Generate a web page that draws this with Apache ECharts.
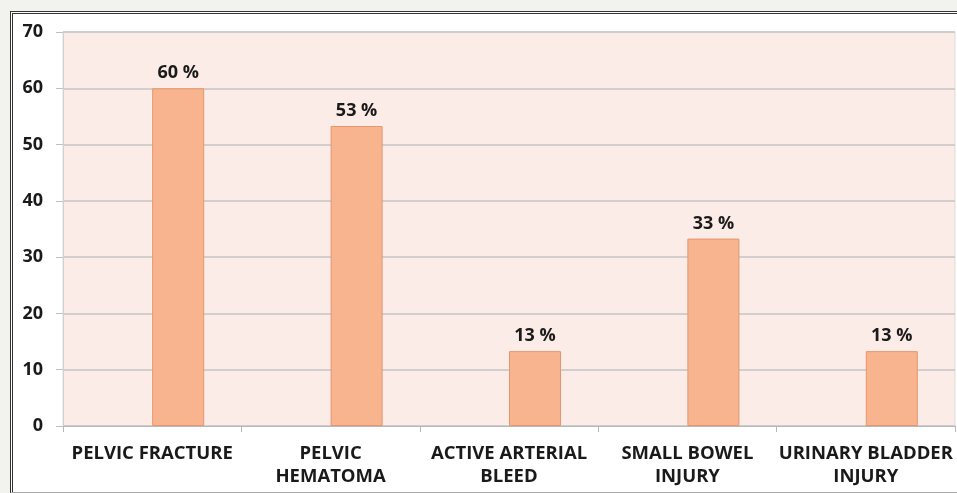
<!DOCTYPE html>
<html>
<head>
<meta charset="utf-8">
<script src="https://cdn.jsdelivr.net/npm/echarts@6/dist/echarts.min.js"></script>
<style>
  html, body { margin: 0; padding: 0; background: #f2f2ee; overflow: hidden; }
  #frame {
    position: absolute; left: 10px; top: 11px; width: 960px; height: 478px;
    background: #ffffff; border-top: 3px double #333; border-left: 3px double #333;
    border-bottom: 1px solid #aaa;
  }
  #main { position: absolute; left: 0; top: 0; width: 957px; height: 493px; }
</style>
</head>
<body>
<div id="frame"></div>
<div id="main"></div>
<script>
  // categories and values (percent)
  const categories = ['PELVIC FRACTURE', 'PELVIC\nHEMATOMA', 'ACTIVE ARTERIAL\nBLEED', 'SMALL BOWEL\nINJURY', 'URINARY BLADDER\nINJURY']
  const values = [60, 53.3, 13.3, 33.3, 13.3]
  const labels = ['60 %', '53 %', '13 %', '33 %', '13 %']
  const emptySeries = [null, null, null, null, null] // blank slot so bars sit right of centre

  const myChart = echarts.init(document.getElementById('main'))
  const option = {
    animation: false,
    grid: {
      left: 63,
      right: 2,
      top: 32,
      bottom: 67,
      show: true,
      backgroundColor: '#fcece7',
      borderColor: '#dcdcdc',
      borderWidth: 1
    },
    xAxis: {
      type: 'category',
      data: categories,
      axisLine: { show: true, lineStyle: { color: '#b8b8b8', width: 1 } },
      axisTick: { show: true, length: 6, lineStyle: { color: '#b8b8b8' } },
      axisLabel: {
        color: '#1a1a1a',
        fontFamily: 'Open Sans',
        fontWeight: 'bold',
        fontSize: 18.5,
        lineHeight: 23,
        margin: 16,
        interval: 0
      }
    },
    yAxis: {
      type: 'value',
      min: 0,
      max: 70,
      interval: 10,
      axisLine: { show: true, lineStyle: { color: '#d0d0d0' } },
      axisTick: { show: true, length: 7, lineStyle: { color: '#c0c0c0' } },
      splitLine: { show: true, lineStyle: { color: '#c4c4c4', width: 1.5 } },
      axisLabel: {
        color: '#1a1a1a',
        fontFamily: 'Open Sans',
        fontWeight: 'bold',
        fontSize: 18,
        margin: 20
      }
    },
    series: [
      {
        type: 'bar',
        data: emptySeries,
        barWidth: 52,
        barGap: '0%'
      },
      {
        type: 'bar',
        data: values,
        barWidth: 52,
        barGap: '0%',
        itemStyle: {
          color: '#f8b48e',
          borderColor: '#e6966c',
          borderWidth: 1
        },
        label: {
          show: true,
          position: 'top',
          distance: 6,
          color: '#1a1a1a',
          fontFamily: 'Open Sans',
          fontWeight: 'bold',
          fontSize: 18,
          formatter: function (p) { return labels[p.dataIndex] }
        }
      }
    ]
  }
  myChart.setOption(option)
</script>
</body>
</html>
